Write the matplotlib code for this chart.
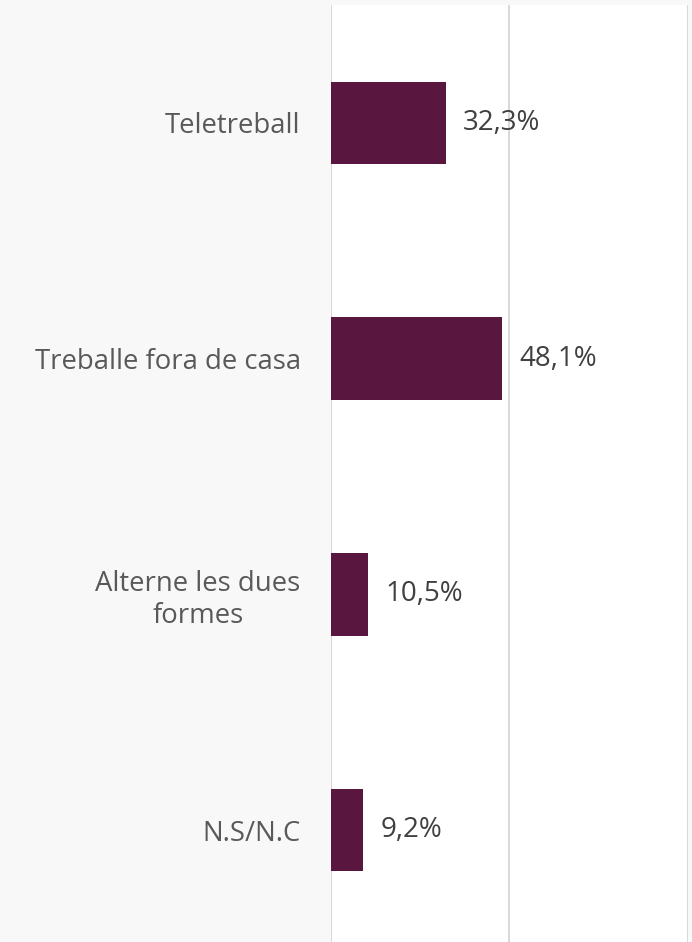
"""Horizontal bar chart: where do people work (Catalan survey)."""

import matplotlib
matplotlib.use("Agg")
import matplotlib.pyplot as plt

categories = ["Teletreball", "Treballe fora de casa", "Alterne les dues\nformes", "N.S/N.C"]
values = [32.3, 48.1, 10.5, 9.2]
value_labels = ["32,3%", "48,1%", "10,5%", "9,2%"]

BAR_COLOR = "#59173f"
GRID_COLOR = "#d9d9d9"

plt.rcParams["font.family"] = ["Open Sans", "DejaVu Sans"]

fig = plt.figure(figsize=(6.92, 9.42), dpi=100)
fig.patch.set_facecolor("#f8f8f8")

W, H = 692, 942
left_px, right_px = 330.5, 687.5
top_px, bottom_px = 5, 948
ax = fig.add_axes([left_px / W, 1 - bottom_px / H,
                   (right_px - left_px) / W, (bottom_px - top_px) / H])
ax.set_facecolor("white")

y = list(range(len(categories)))
ax.barh(y, values, height=0.35, color=BAR_COLOR, zorder=3)

ax.set_xlim(0, 100)
ax.set_ylim(len(categories) - 0.5, -0.5)

ax.set_xticks([0, 50, 100])
ax.xaxis.grid(True, color=GRID_COLOR, linewidth=1.5, zorder=0)
ax.tick_params(axis="x", length=0, labelbottom=False)
ax.tick_params(axis="y", length=0, pad=21.5)
ax.set_yticks(y)
ax.set_yticklabels(categories, fontsize=19.8, color="#595959",
                   multialignment="center")

for s in ax.spines.values():
    s.set_visible(False)

for yi, v, lab in zip(y, values, value_labels):
    ax.annotate(lab, (v, yi), xytext=(17, 0), textcoords="offset pixels",
                ha="left", va="center", fontsize=20, color="#404040",
                zorder=4)

plt.savefig("out.png", dpi=100, facecolor=fig.get_facecolor())
plt.close()
